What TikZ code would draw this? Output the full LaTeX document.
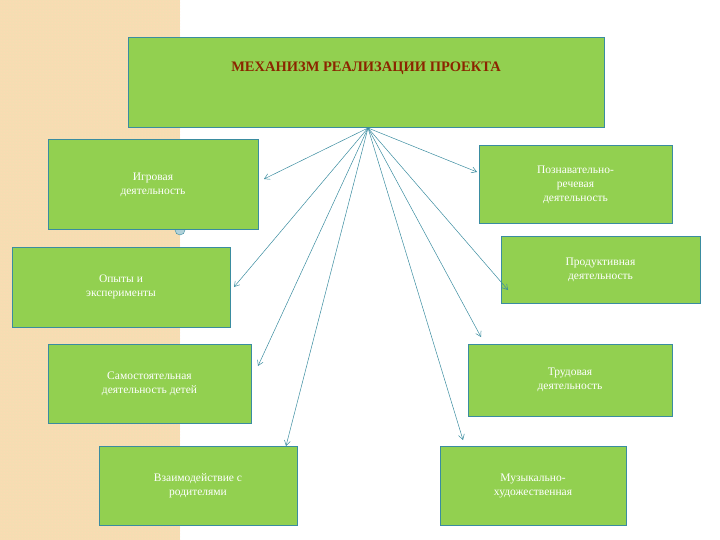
\documentclass[tikz,border=0pt]{standalone}
\usepackage{fontspec}
\setmainfont{Liberation Serif}
\usetikzlibrary{arrows.meta,patterns}
\definecolor{boxgreen}{HTML}{92D050}
\definecolor{boxline}{HTML}{3A8CA0}
\definecolor{titlered}{HTML}{8B2500}
\definecolor{strip}{HTML}{F5DEB3}
\tikzset{
	actbox/.style = {draw=boxline, fill=boxgreen, line width=1pt, text=white,
		align=center, font=\fontsize{11.5}{14}\selectfont, inner sep=0pt},
	feed/.style = {draw=boxline, line width=0.5pt, -{Straight Barb[length=5pt,width=6pt]}}
}
\begin{document}
\begin{tikzpicture}[x=1pt, y=-1pt]

	\useasboundingbox (0,0) rectangle (720,540);
	\fill[strip] (0,0) rectangle (180,540);
	\fill[pattern=crosshatch dots, pattern color=orange!30] (0,0) rectangle (180,540);

	% title
	\node[actbox, minimum width=476pt, minimum height=90pt] (title) at (366,83) {};
	\node[font=\bfseries\fontsize{14.5}{17}\selectfont, text=titlered] (titletext) at (366,68) {МЕХАНИЗМ РЕАЛИЗАЦИИ ПРОЕКТА};
	\coordinate (hub) at (368,128);

	% left column
	\draw[boxline, fill=boxline!40] (180,230) circle (5pt);
	\node[actbox, minimum width=210pt, minimum height=90pt] (igr) at (153,185) {Игровая\\деятельность};
	\node[actbox, minimum width=218pt, minimum height=80pt] (opy) at (121,287) {Опыты и\\эксперименты};
	\node[actbox, minimum width=203pt, minimum height=79pt] (sam) at (149.5,383.5) {Самостоятельная\\деятельность детей};
	\node[actbox, minimum width=198pt, minimum height=79pt] (vza) at (198,485.5) {Взаимодействие с\\родителями};

	% right column
	\node[actbox, minimum width=193pt, minimum height=78pt] (poz) at (575.5,185) {Познавательно-\\речевая\\деятельность};
	\node[actbox, minimum width=199pt, minimum height=67pt] (pro) at (600.5,269.5) {Продуктивная\\деятельность};
	\node[actbox, minimum width=204pt, minimum height=72pt] (tru) at (570,380) {Трудовая\\деятельность};
	\node[actbox, minimum width=186pt, minimum height=79pt] (muz) at (533,485.5) {Музыкально-\\художественная};

	% arrows
	\coordinate (a1) at (264,179);
	\coordinate (a2) at (234,287);
	\coordinate (a3) at (258,366);
	\coordinate (a4) at (286,446);
	\coordinate (a5) at (477,172);
	\coordinate (a6) at (508,290);
	\coordinate (a7) at (481,337);
	\coordinate (a8) at (463,440);
	\foreach \t in {a1,a2,a3,a4,a5,a6,a7,a8}
		\draw[feed] (hub) -- (\t);
\end{tikzpicture}
\end{document}
